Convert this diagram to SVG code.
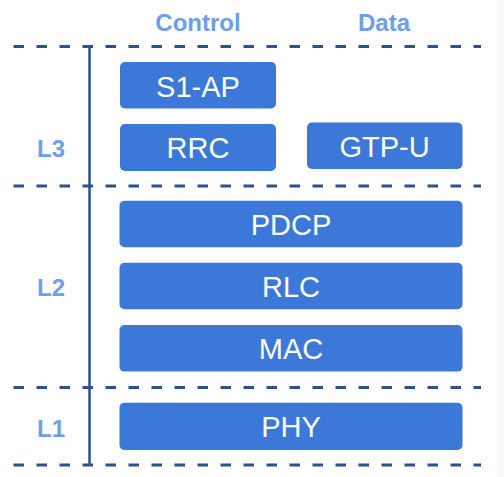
<svg xmlns="http://www.w3.org/2000/svg" width="504" height="477" viewBox="0 0 504 477">
<style>
.box{fill:#3c78d8}
.bt{font-family:"Liberation Sans",Arial,sans-serif;font-size:29px;fill:#ffffff;text-anchor:middle}
.lbl{font-family:"Liberation Sans",Arial,sans-serif;font-size:24px;font-weight:bold;fill:#6d9eeb;text-anchor:middle}
.dash{stroke:#2c5190;stroke-width:3;stroke-dasharray:10.5 12.5;fill:none}
.vline{stroke:#2c5190;stroke-width:2.5;fill:none}
</style>
<rect x="0" y="0" width="504" height="477" fill="#ffffff"/>
<rect x="497" y="0" width="7" height="477" fill="#f8f8f8"/>
<g id="headers">
<text class="lbl" x="198" y="31">Control</text>
<text class="lbl" x="384" y="31">Data</text>
</g>
<g id="layer-labels">
<text class="lbl" x="51" y="157">L3</text>
<text class="lbl" x="51" y="296">L2</text>
<text class="lbl" x="51" y="437">L1</text>
</g>
<g id="connectors">
<line class="dash" x1="13.5" y1="46.5" x2="481" y2="46.5"/>
<line class="dash" x1="13.5" y1="186" x2="481" y2="186"/>
<line class="dash" x1="13.5" y1="387.5" x2="481" y2="387.5"/>
<line class="dash" x1="13.5" y1="465" x2="481" y2="465"/>
<line class="vline" x1="89.5" y1="46" x2="89.5" y2="465"/>
</g>
<g id="s1ap"><rect class="box" x="120" y="62" width="156" height="46.5" rx="5"/><text class="bt" x="198" y="96.5">S1-AP</text></g>
<g id="rrc"><rect class="box" x="120" y="124" width="156" height="47" rx="5"/><text class="bt" x="198" y="158">RRC</text></g>
<g id="gtpu"><rect class="box" x="307" y="122.5" width="155.5" height="46.5" rx="5"/><text class="bt" x="384.5" y="157">GTP-U</text></g>
<g id="pdcp"><rect class="box" x="119.5" y="200.7" width="343" height="46.6" rx="5"/><text class="bt" x="291" y="235">PDCP</text></g>
<g id="rlc"><rect class="box" x="119.5" y="262.7" width="343" height="46.6" rx="5"/><text class="bt" x="291" y="297">RLC</text></g>
<g id="mac"><rect class="box" x="119.5" y="325" width="343" height="46.6" rx="5"/><text class="bt" x="291" y="359">MAC</text></g>
<g id="phy"><rect class="box" x="119.5" y="402.7" width="343" height="47.3" rx="5"/><text class="bt" x="291" y="437">PHY</text></g>
</svg>
